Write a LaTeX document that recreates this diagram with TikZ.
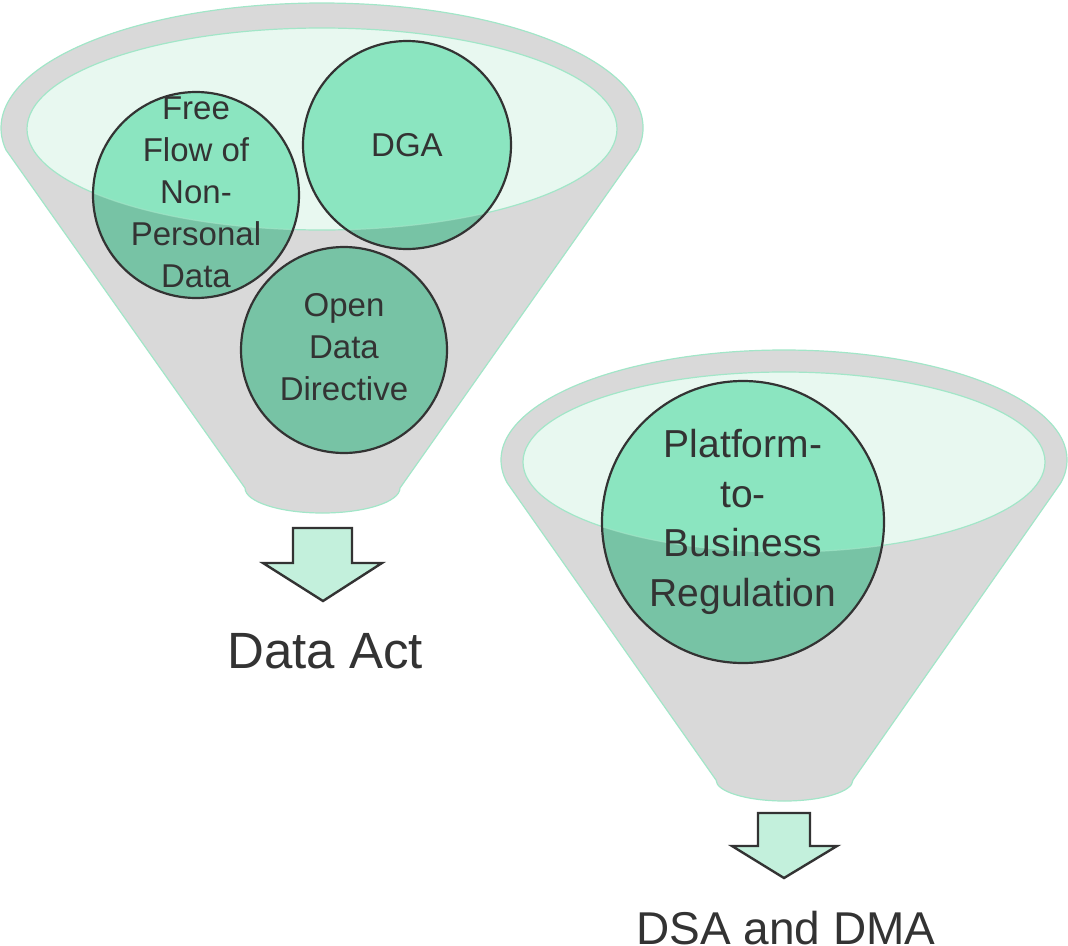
\documentclass[tikz,border=0pt]{standalone}
\usepackage{fontspec}
\setmainfont{Liberation Sans}
\usepackage{tikz}
\usetikzlibrary{calc,positioning}

\definecolor{funnelgrey}{HTML}{D9D9D9}
\definecolor{mouthgreen}{HTML}{E8F8F0}
\definecolor{edgegreen}{HTML}{A2E6C8}
\definecolor{lawgreen}{HTML}{8BE5C0}
\definecolor{lawshade}{HTML}{77C3A5}
\definecolor{inkgrey}{HTML}{333333}
\definecolor{arrowgreen}{HTML}{C3F0DC}

\tikzset{
  funnel/.style={fill=funnelgrey, draw=edgegreen, line width=1.2pt},
  mouth/.style={fill=mouthgreen, draw=edgegreen, line width=1.2pt},
  law/.style={circle, fill=lawgreen, minimum size=#1, inner sep=0pt},
  lawline/.style={draw=inkgrey, line width=2.2pt},
  lawtext/.style={text=inkgrey, align=center, inner sep=0pt},
  downarrow/.style={fill=arrowgreen, draw=inkgrey, line width=2.4pt, line join=miter},
  outcome/.style={text=inkgrey, inner sep=0pt, anchor=base}
}

\begin{document}
\begin{tikzpicture}[x=1pt, y=1pt]
            \useasboundingbox (0,0) rectangle (1068,-945);
            % first funnel
            \coordinate (O1) at (322,-128);
            \coordinate (M1) at (322,-129);
            \draw[funnel] ($(O1)+(190.1:321 and 125)$) -- (245,-488)
                arc[start angle=180, end angle=360, x radius=77.5, y radius=25]
                -- ($(O1)+(-10.1:321 and 125)$)
                arc[start angle=-10.1, end angle=190.1, x radius=321, y radius=125] -- cycle;
            \draw[mouth] (M1) ellipse[x radius=295, y radius=101];
            % second funnel
            \coordinate (O2) at (784,-460);
            \coordinate (M2) at (784,-462);
            \draw[funnel] ($(O2)+(192:283 and 110)$) -- (716,-780)
                arc[start angle=180, end angle=360, x radius=68.5, y radius=21]
                -- ($(O2)+(-12:283 and 110)$)
                arc[start angle=-12, end angle=192, x radius=283, y radius=110] -- cycle;
            \draw[mouth] (M2) ellipse[x radius=261, y radius=90];
            % laws dropped in
            \node[law=206] (FreeFlow) at (196,-195) {};
            \node[law=208] (DGA) at (407,-145) {};
            \node[law=206] (OpenData) at (344,-350) {};
            \node[law=282] (PtoB) at (743,-522) {};
            \foreach \c/\r/\m/\rx/\ry in {FreeFlow/103/M1/295/101, DGA/104/M1/295/101,
                OpenData/103/M1/295/101, PtoB/141/M2/261/90} {
                \begin{scope}
                    \clip (\c.center) circle[radius=\r];
                    \fill[lawshade, even odd rule] (0,0) rectangle (1068,-945)
                        (\m) ellipse[x radius=\rx, y radius=\ry];
                    \draw[edgegreen, line width=1.2pt, opacity=0.7] (\m) ellipse[x radius=\rx, y radius=\ry];
                \end{scope}
                \draw[lawline] (\c.center) circle[radius=\r];
            }
            \node[lawtext, font=\fontsize{33}{42}\selectfont] (FreeFlowText) at ([yshift=3]FreeFlow) {Free\\Flow of\\Non-\\Personal\\Data};
            \node[lawtext, font=\fontsize{33}{42}\selectfont] (DGAText) at (DGA) {DGA};
            \node[lawtext, font=\fontsize{33}{42}\selectfont] (OpenDataText) at ([yshift=3]OpenData) {Open\\Data\\Directive};
            \node[lawtext, font=\fontsize{39}{49.5}\selectfont] (PtoBText) at (PtoB) {Platform-\\to-\\Business\\Regulation};
            % outcomes
            \draw[downarrow] (293,-528) coordinate (A1) -- ++(59,0) -- ++(0,-35) -- ++(30,0)
                -- (323,-601) -- (263,-563) -- (293,-563) -- cycle;
            \draw[downarrow] (758,-813) coordinate (A2) -- ++(52,0) -- ++(0,-33) -- ++(27,0)
                -- (784,-878) -- (732,-846) -- (758,-846) -- cycle;
            \node[outcome, font=\fontsize{51}{60}\selectfont] (DataAct) at (325,-668) {Data Act};
            \node[outcome, font=\fontsize{46}{55}\selectfont] (DSADMA) at (786,-944) {DSA and DMA};
        \end{tikzpicture}
\end{document}
